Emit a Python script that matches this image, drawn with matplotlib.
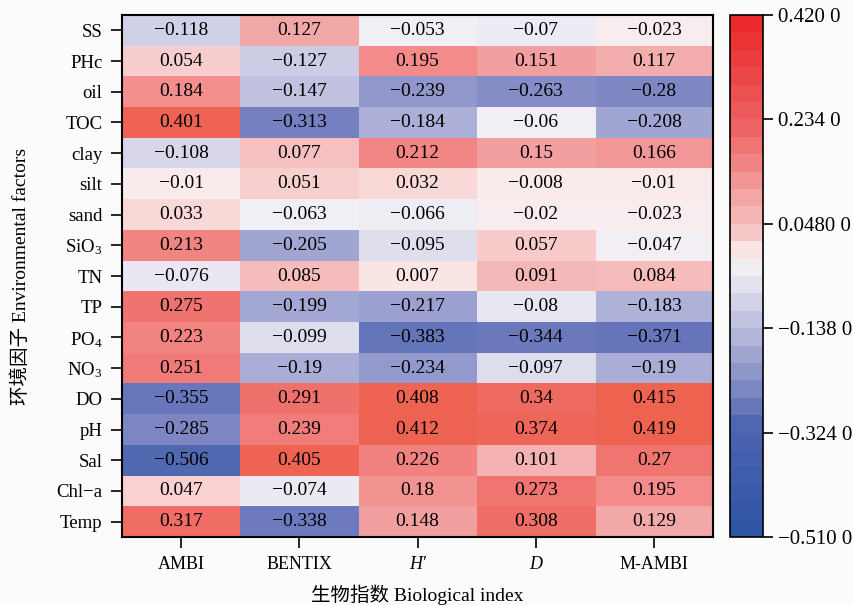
import numpy as np
import matplotlib as mpl
from matplotlib import pyplot as plt
from matplotlib.colors import LinearSegmentedColormap, ListedColormap, Normalize

mpl.use('Agg')

plt.rcParams['font.family'] = ['Liberation Serif', 'Noto Sans CJK SC']
plt.rcParams['mathtext.fontset'] = 'custom'
plt.rcParams['mathtext.rm'] = 'Liberation Serif'
plt.rcParams['mathtext.it'] = 'Liberation Serif:italic'

factors = ['SS', 'PHc', 'oil', 'TOC', 'clay', 'silt', 'sand', 'SiO$_3$', 'TN',
           'TP', 'PO$_4$', 'NO$_3$', 'DO', 'pH', 'Sal', 'Chl−a', 'Temp']
indices = ['AMBI', 'BENTIX', 'H′', 'D', 'M-AMBI']

ambi = [-0.118, 0.054, 0.184, 0.401, -0.108, -0.01, 0.033, 0.213, -0.076,
        0.275, 0.223, 0.251, -0.355, -0.285, -0.506, 0.047, 0.317]
bentix = [0.127, -0.127, -0.147, -0.313, 0.077, 0.051, -0.063, -0.205, 0.085,
          -0.199, -0.099, -0.19, 0.291, 0.239, 0.405, -0.074, -0.338]
h_prime = [-0.053, 0.195, -0.239, -0.184, 0.212, 0.032, -0.066, -0.095, 0.007,
           -0.217, -0.383, -0.234, 0.408, 0.412, 0.226, 0.18, 0.148]
d_index = [-0.07, 0.151, -0.263, -0.06, 0.15, -0.008, -0.02, 0.057, 0.091,
           -0.08, -0.344, -0.097, 0.34, 0.374, 0.101, 0.273, 0.308]
m_ambi = [-0.023, 0.117, -0.28, -0.208, 0.166, -0.01, -0.023, -0.047, 0.084,
          -0.183, -0.371, -0.19, 0.415, 0.419, 0.27, 0.195, 0.129]

cbar_ticks = [0.42, 0.234, 0.048, -0.138, -0.324, -0.51]
cbar_labels = ['0.420 0', '0.234 0', '0.0480 0', '−0.138 0', '−0.324 0', '−0.510 0']

vmin, vmax = -0.51, 0.42

data = np.array([ambi, bentix, h_prime, d_index, m_ambi]).T

# colours of the cells
cell_nodes = [(-0.51, '#5068b0'), (-0.35, '#6a78bc'), (-0.28, '#8088c4'),
              (-0.2, '#a4a8d4'), (-0.1, '#dcdcec'), (-0.06, '#f2f0f6'),
              (0.0, '#fbeaea'), (0.05, '#f9d0d0'), (0.1, '#f5b4b4'),
              (0.15, '#f3a0a0'), (0.2, '#f28a88'), (0.275, '#f07470'),
              (0.34, '#ef6a60'), (0.42, '#ee6250')]
cell_cmap = LinearSegmentedColormap.from_list(
    'cells', [((v - vmin) / (vmax - vmin), c) for v, c in cell_nodes])

# colours of the colour bar
bar_nodes = [(-0.51, '#2f55a5'), (-0.324, '#4c64b0'), (-0.28, '#6c7cbc'),
             (-0.2, '#9ca0cc'), (-0.138, '#bcbede'), (-0.05, '#e8e8f0'),
             (-0.02, '#f4f0f4'), (0.0, '#fbe8e8'), (0.048, '#f6bebe'),
             (0.234, '#ee6262'), (0.42, '#ea2a2c')]
bar_lin = LinearSegmentedColormap.from_list(
    'bar', [((v - vmin) / (vmax - vmin), c) for v, c in bar_nodes])
bar_cmap = ListedColormap(bar_lin(np.linspace(0, 1, 30)))

fig = plt.figure(figsize=(8.54, 6.05), dpi=100)
fig.patch.set_facecolor('#fbfbfb')
ax = fig.add_axes([0.1429, 0.1124, 0.6921, 0.8628])
cax = fig.add_axes([0.855, 0.1124, 0.038, 0.8628])

norm = Normalize(vmin=vmin, vmax=vmax)
ax.imshow(data, cmap=cell_cmap, norm=norm, aspect='auto', interpolation='nearest')

for i in range(data.shape[0]):
    for j in range(data.shape[1]):
        txt = ('%g' % data[i, j]).replace('-', '−')
        ax.text(j, i, txt, ha='center', va='center', fontsize=14, color='black')

ax.set_xticks(range(len(indices)))
ax.set_xticklabels(indices, fontsize=13)
ax.set_yticks(range(len(factors)))
ax.set_yticklabels(factors, fontsize=13.5)
for k in (2, 3):
    ax.get_xticklabels()[k].set_fontstyle('italic')
ax.tick_params(length=8, width=1.2, color='black', pad=6)
for sp in ax.spines.values():
    sp.set_linewidth(1.5)

ax.set_xlabel('生物指数 Biological index', fontsize=14, labelpad=8)
ax.set_ylabel('环境因子 Environmental factors', fontsize=14)
ax.yaxis.set_label_coords(-0.155, 0.5)

sm = mpl.cm.ScalarMappable(norm=norm, cmap=bar_cmap)
cb = fig.colorbar(sm, cax=cax)
cb.set_ticks(cbar_ticks)
cb.set_ticklabels(cbar_labels)
cb.ax.tick_params(length=7, width=1.2, labelsize=15, pad=4)
cb.outline.set_linewidth(1.2)

plt.savefig('out.png', dpi=100, facecolor=fig.get_facecolor())
